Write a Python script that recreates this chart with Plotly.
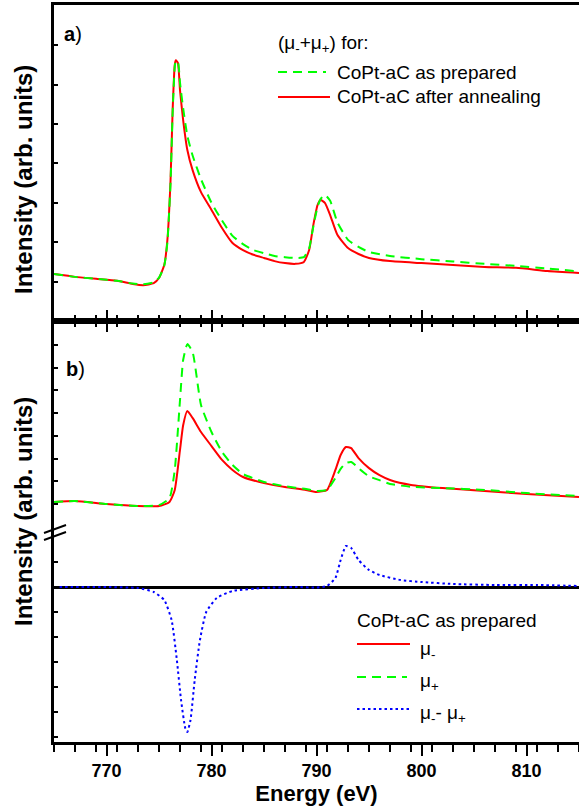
import plotly.graph_objects as go

# ---------------- data ----------------
# Panel a: (mu- + mu+) sum spectra
energy_a = [765, 767, 769, 771, 772.5, 773.5, 774.5, 775.0, 775.5, 775.8, 776.1, 776.3,
            776.5, 776.6, 776.8, 777.0, 777.3, 777.7, 778.2, 779, 780, 781, 782, 783,
            784, 785, 786, 787, 788, 788.8, 789.3, 789.7, 790.1, 790.4, 790.8, 791.3,
            792, 793, 794, 795, 797, 800, 803, 806, 809, 812, 815]
annealed_a = [1.19, 1.12, 1.07, 1.02, 0.94, 0.91, 0.96, 1.09, 1.42, 2.06, 3.58, 5.36,
              6.50, 6.62, 6.55, 5.86, 5.10, 4.34, 3.83, 3.27, 2.82, 2.36, 1.98, 1.80,
              1.68, 1.60, 1.52, 1.47, 1.45, 1.50, 1.80, 2.44, 2.94, 3.07, 3.00, 2.69,
              2.18, 1.85, 1.70, 1.60, 1.52, 1.47, 1.42, 1.37, 1.35, 1.27, 1.22]
prepared_a = [1.19, 1.12, 1.07, 1.02, 0.95, 0.93, 0.98, 1.10, 1.40, 2.00, 3.50, 5.30,
              6.45, 6.60, 6.58, 6.05, 5.40, 4.70, 4.20, 3.60, 3.00, 2.55, 2.16, 1.95,
              1.80, 1.72, 1.65, 1.62, 1.60, 1.62, 1.85, 2.40, 2.90, 3.10, 3.20, 3.05,
              2.50, 2.06, 1.88, 1.75, 1.65, 1.57, 1.51, 1.45, 1.40, 1.33, 1.26]

# Panel b: mu- and mu+ for CoPt-aC as prepared
energy_b = [765, 767, 770, 773, 775, 776, 776.5, 777, 777.3, 777.7, 778.2, 779, 780,
            781, 782, 783, 785, 787, 789, 790, 791, 791.8, 792.3, 792.8, 793.3, 794,
            795, 796, 797, 799, 802, 806, 810, 815]
mu_minus = [1.09, 1.13, 1.00, 0.91, 0.91, 1.09, 1.62, 3.38, 4.47, 5.10, 4.79, 4.17, 3.55,
            2.94, 2.50, 2.19, 1.92, 1.75, 1.62, 1.53, 1.62, 2.50, 3.16, 3.51, 3.46, 3.02,
            2.58, 2.27, 2.06, 1.84, 1.70, 1.57, 1.44, 1.31]
mu_plus = [1.09, 1.13, 1.00, 0.91, 0.95, 1.26, 2.50, 5.57, 7.34, 8.04, 7.69, 5.36, 4.17,
           3.29, 2.72, 2.32, 1.97, 1.78, 1.66, 1.57, 1.62, 2.14, 2.55, 2.80, 2.85, 2.58,
           2.22, 2.05, 1.88, 1.76, 1.70, 1.62, 1.48, 1.35]

# Panel b (lower part): difference mu- - mu+
energy_d = [765, 770, 773, 774.5, 775.5, 776.2, 776.7, 777.1, 777.5, 777.7, 778.0, 778.4,
            778.9, 779.5, 780.5, 782, 785, 788, 790, 791, 791.8, 792.3, 792.8, 793.3,
            794, 795, 796, 798, 800, 803, 807, 811, 815]
diff = [0.0, 0.0, -0.04, -0.20, -0.52, -1.32, -2.92, -4.52, -5.64, -5.80, -5.32, -3.72,
        -2.12, -1.00, -0.44, -0.16, -0.04, 0.0, -0.02, 0.04, 0.36, 1.08, 1.64, 1.56,
        1.08, 0.68, 0.48, 0.28, 0.20, 0.12, 0.08, 0.08, 0.04]

x_tickvals = [770, 780, 790, 800, 810]
x_ticktext = ["770", "780", "790", "800", "810"]

# ---------------- geometry helpers ----------------
W, H = 579, 810
ML, MR, MT, MB = 54, 0, 5, 68
PW, PH = W - ML - MR, H - MT - MB


def px(x):
    return (x - ML) / PW


def py(y):
    return (H - MB - y) / PH


RED = "#FF0000"
GREEN = "#00FF00"
BLUE = "#0000FF"
FONT = "Liberation Sans, Arial, sans-serif"
LW = 2

dash_g = "9px,6px"
dot_b = "2.5px,3px"

fig = go.Figure()

fig.add_trace(go.Scatter(x=energy_a, y=annealed_a, mode="lines",
                         line=dict(color=RED, width=LW, shape="spline", smoothing=0.5),
                         xaxis="x3", yaxis="y"))
fig.add_trace(go.Scatter(x=energy_a, y=prepared_a, mode="lines",
                         line=dict(color=GREEN, width=LW, dash=dash_g, shape="spline", smoothing=0.5),
                         xaxis="x3", yaxis="y"))

fig.add_trace(go.Scatter(x=energy_b, y=mu_minus, mode="lines",
                         line=dict(color=RED, width=LW, shape="spline", smoothing=0.5),
                         xaxis="x2", yaxis="y2"))
fig.add_trace(go.Scatter(x=energy_b, y=mu_plus, mode="lines",
                         line=dict(color=GREEN, width=LW, dash=dash_g, shape="spline", smoothing=0.5),
                         xaxis="x2", yaxis="y2"))

fig.add_trace(go.Scatter(x=energy_d, y=diff, mode="lines",
                         line=dict(color=BLUE, width=LW, dash=dot_b, shape="spline", smoothing=0.5),
                         xaxis="x", yaxis="y3"))

ya0 = (H - MB - 321) / PH
yb0 = (H - MB - 533) / PH

axis_common = dict(showgrid=False, zeroline=False, linecolor="black", linewidth=2.5,
                   tickcolor="black", tickwidth=2, range=[765, 815])

fig.update_layout(
    width=W, height=H,
    margin=dict(l=ML, r=MR, t=MT, b=MB),
    paper_bgcolor="white", plot_bgcolor="white",
    showlegend=False,
    font=dict(family=FONT, color="black"),
    xaxis=dict(**axis_common, anchor="y3", ticks="outside", ticklen=11,
               tickvals=x_tickvals, ticktext=x_ticktext,
               tickfont=dict(size=18, family="Liberation Sans", weight="bold"),
               minor=dict(dtick=2, tick0=765, ticks="outside", ticklen=7, tickwidth=2, tickcolor="black"),
               title=dict(text="<b>Energy (eV)</b>", font=dict(size=22), standoff=6)),
    xaxis2=dict(**axis_common, anchor="y2", side="top", matches="x", ticks="inside", ticklen=11,
                tickvals=x_tickvals, showticklabels=False,
                minor=dict(dtick=2, tick0=765, ticks="inside", ticklen=6, tickwidth=2, tickcolor="black")),
    xaxis3=dict(**axis_common, anchor="y", side="bottom", matches="x", ticks="inside", ticklen=11,
                tickvals=x_tickvals, showticklabels=False, mirror=True,
                minor=dict(dtick=2, tick0=765, ticks="inside", ticklen=6, tickwidth=2, tickcolor="black")),
    yaxis=dict(domain=[ya0, 1], range=[0, 8.02], showgrid=False, zeroline=False,
               linecolor="black", linewidth=2.5, ticks="inside", ticklen=4, tickwidth=1.5,
               tickcolor="black", tickvals=[1, 2, 3, 4, 5, 6, 7], showticklabels=False,
               anchor="x3"),
    yaxis2=dict(domain=[yb0, ya0], range=[-0.277, 9.058], showgrid=False, zeroline=False,
                linecolor="black", linewidth=2.5, ticks="inside", ticklen=4, tickwidth=1.5,
                tickcolor="black", tickvals=[1, 2, 3, 4, 5, 6, 7, 8], showticklabels=False,
                anchor="x2"),
    yaxis3=dict(domain=[0, yb0], range=[-6.2, 2.16], showgrid=False,
                zeroline=True, zerolinecolor="black", zerolinewidth=2.5,
                linecolor="black", linewidth=2.5, ticks="inside", ticklen=4, tickwidth=1.5,
                tickcolor="black", tickvals=[-6, -5, -4, -3, -2, -1, 0, 1], showticklabels=False,
                anchor="x"),
)

shapes = []
# axis-break marks on the left axis of panel b
for yy in (529, 536):
    shapes.append(dict(type="line", xref="paper", yref="paper",
                       x0=px(44), y0=py(yy + 4), x1=px(66), y1=py(yy - 4),
                       line=dict(color="black", width=2)))

# legend samples panel a
shapes.append(dict(type="line", xref="paper", yref="paper", x0=px(278), x1=px(326),
                   y0=py(72), y1=py(72), line=dict(color=GREEN, width=LW, dash=dash_g)))
shapes.append(dict(type="line", xref="paper", yref="paper", x0=px(278), x1=px(330),
                   y0=py(97), y1=py(97), line=dict(color=RED, width=LW)))
# legend samples panel b
shapes.append(dict(type="line", xref="paper", yref="paper", x0=px(357), x1=px(410),
                   y0=py(644), y1=py(644), line=dict(color=RED, width=LW)))
shapes.append(dict(type="line", xref="paper", yref="paper", x0=px(357), x1=px(407),
                   y0=py(677), y1=py(677), line=dict(color=GREEN, width=LW, dash=dash_g)))
shapes.append(dict(type="line", xref="paper", yref="paper", x0=px(357), x1=px(410),
                   y0=py(709), y1=py(709), line=dict(color=BLUE, width=LW, dash=dot_b)))
fig.update_layout(shapes=shapes)

LEG = 19


def ann(text, x, y, size=LEG, xanchor="left", **kw):
    return dict(text=text, x=px(x), y=py(y), xref="paper", yref="paper", showarrow=False,
                xanchor=xanchor, yanchor="middle", font=dict(size=size, family=FONT, color="black"), **kw)


annotations = [
    ann("(μ<sub>-</sub>+μ<sub>+</sub>) for:", 276, 44),
    ann("CoPt-aC as prepared", 335, 72),
    ann("CoPt-aC after annealing", 335, 97),
    ann("CoPt-aC as prepared", 355, 620),
    ann("μ<sub>-</sub>", 418, 650),
    ann("μ<sub>+</sub>", 418, 682),
    ann("μ<sub>-</sub>- μ<sub>+</sub>", 418, 714),
    ann("<b>a</b>)", 62, 34, size=20),
    ann("<b>b</b>)", 64, 369, size=20),
    ann("<b>Intensity (arb. units)</b>", 23, 180, size=24, xanchor="center", textangle=-90),
    ann("<b>Intensity (arb. units)</b>", 23, 512, size=24, xanchor="center", textangle=-90),
]
fig.update_layout(annotations=annotations)

fig.write_html("out.html",
               config={"displayModeBar": False},
               post_script="document.body.style.margin='0';document.body.style.padding='0';"
                           "document.body.style.overflow='hidden';"
                           "document.documentElement.style.overflow='hidden';")
